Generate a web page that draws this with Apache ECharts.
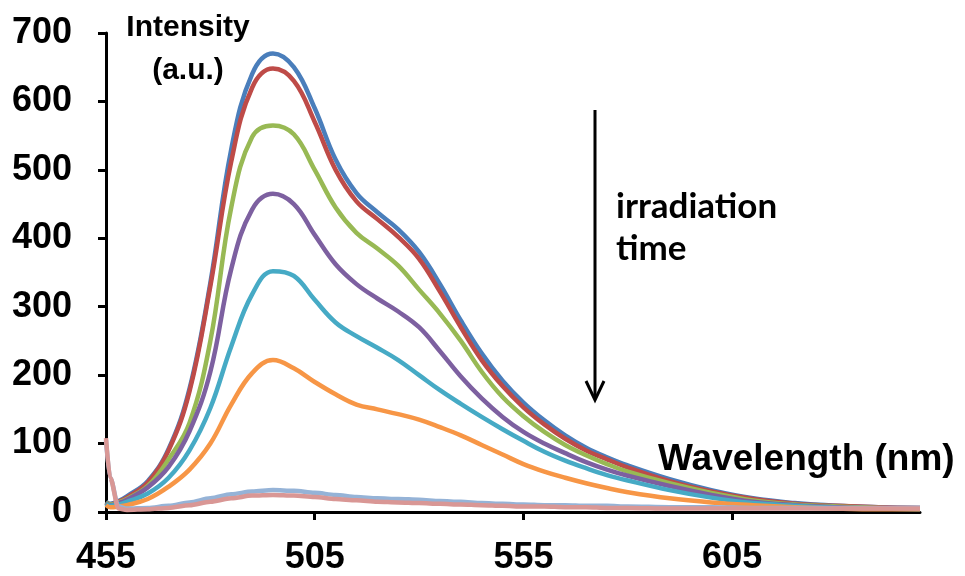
<!DOCTYPE html>
<html>
<head>
<meta charset="utf-8">
<script src="https://cdn.jsdelivr.net/npm/echarts@6/dist/echarts.min.js"></script>
<style>
  html, body { margin: 0; padding: 0; background: #fff; }
  #chart { width: 965px; height: 576px; }
</style>
</head>
<body>
<div id="chart"></div>
<script>
// Emission wavelengths (nm) shared by every spectrum
const wavelengths = [455, 456, 458, 460, 465, 470, 475, 480, 485, 490, 495, 500, 505, 510, 515, 520, 525, 530, 535, 540, 545, 550, 555, 560, 565, 570, 575, 580, 590, 600, 610, 620, 630, 640, 650];

// Fluorescence intensity (a.u.) for successive irradiation times
const spectrum0 = [15, 12, 16, 23, 45, 92, 180, 335, 530, 640, 670, 650, 590, 515, 466, 438, 413, 380, 333, 280, 232, 192, 160, 134, 112, 94, 80, 68, 48, 32, 20, 13, 9, 7, 6];
const spectrum1 = [14, 11, 15, 21, 43, 90, 176, 330, 512, 620, 648, 630, 570, 500, 454, 428, 402, 370, 322, 270, 222, 184, 153, 128, 107, 90, 77, 65, 45, 30, 19, 12, 9, 7, 6];
const spectrum2 = [14, 11, 14, 19, 38, 77, 130, 250, 445, 548, 565, 552, 500, 445, 408, 385, 360, 325, 290, 250, 205, 168, 140, 117, 98, 83, 70, 59, 42, 28, 17, 11, 8, 6, 5];
const spectrum3 = [13, 10, 13, 18, 36, 66, 118, 205, 355, 442, 465, 450, 405, 362, 333, 312, 293, 270, 235, 198, 166, 139, 117, 100, 86, 73, 62, 53, 38, 25, 15, 10, 7, 5, 5];
const spectrum4 = [12, 9, 11, 15, 27, 50, 90, 152, 242, 318, 352, 345, 310, 277, 257, 240, 222, 200, 178, 158, 139, 121, 104, 88, 75, 64, 54, 46, 32, 21, 13, 9, 6, 5, 4];
const spectrum5 = [10, 7, 8, 10, 19, 37, 62, 100, 157, 203, 222, 210, 190, 172, 157, 150, 143, 135, 124, 112, 98, 84, 70, 59, 50, 42, 35, 29, 20, 14, 10, 7, 5, 4, 4];
const spectrum6 = [105, 50, 8, 5, 6, 9, 14, 20, 26, 30, 32, 31, 28, 25, 22, 20, 19, 18, 16, 15, 13, 12, 11, 10, 10, 9, 9, 8, 7, 7, 6, 6, 6, 6, 6];
const spectrum7 = [108, 50, 5, 3, 4, 6, 10, 15, 20, 24, 25, 24, 22, 19, 17, 15, 14, 13, 12, 11, 10, 9, 8, 8, 7, 7, 6, 6, 5, 5, 5, 5, 5, 5, 5];

const spectra = [spectrum0, spectrum1, spectrum2, spectrum3, spectrum4, spectrum5, spectrum6, spectrum7];
const colors = ['#4a7ebb', '#be4b48', '#98b954', '#7d60a0', '#46aac5', '#f79646', '#95b3d7', '#d99795'];

// Axis tick labels
const xTickValues = [455, 505, 555, 605];
const yTickValues = [0, 100, 200, 300, 400, 500, 600, 700];

const chart = echarts.init(document.getElementById('chart'), null, { renderer: 'canvas' });

const labelFont = {
  color: '#000',
  fontFamily: '"Liberation Sans", Arial, sans-serif',
  fontWeight: 'bold',
  fontSize: 36
};

const series = spectra.map((vals, i) => {
  const s = {
    type: 'line',
    data: wavelengths.map((w, j) => [w, vals[j]]),
    smooth: 0.4,
    showSymbol: false,
    symbol: 'none',
    lineStyle: { color: colors[i], width: 4.5 },
    emphasis: { disabled: true },
    z: 2 + i
  };
  // the two faint spectra start with a sharp scatter spike
  if (i >= 6) {
    s.smooth = 0.3;
    s.smoothMonotone = 'x';
  }
  return s;
});

function label(text, x, y, font, align) {
  return {
    type: 'text', z: 20,
    style: { x: x, y: y, text: text, textAlign: align || 'left', textVerticalAlign: 'middle', font: font, fill: '#000' }
  };
}

const arialBold = (size) => 'bold ' + size + 'px "Liberation Sans", Arial, sans-serif';
const latoBold = (size) => 'bold ' + size + 'px Lato, "Open Sans", sans-serif';

chart.setOption({
  animation: false,
  backgroundColor: '#fff',
  grid: { left: 106, right: 45, top: 33, bottom: 63, containLabel: false },
  xAxis: {
    type: 'value',
    min: 455,
    max: 650,
    axisLine: { lineStyle: { color: '#000', width: 3 } },
    axisTick: { show: true, length: 8, lineStyle: { color: '#000', width: 3 }, customValues: xTickValues },
    axisLabel: Object.assign({ margin: 28, customValues: xTickValues }, labelFont),
    splitLine: { show: false }
  },
  yAxis: {
    type: 'value',
    min: 0,
    max: 700,
    interval: 100,
    axisLine: { show: true, lineStyle: { color: '#000', width: 3 } },
    axisTick: { show: true, length: 8, lineStyle: { color: '#000', width: 3 } },
    axisLabel: Object.assign({ margin: 34, formatter: v => yTickValues.includes(v) ? String(v) : '' }, labelFont),
    splitLine: { show: false }
  },
  series: series,
  graphic: [
    label('Intensity', 188, 28, arialBold(30), 'center'),
    label('(a.u.)', 188, 71, arialBold(30), 'center'),
    label('Wavelength (nm)', 658, 460, arialBold(37)),
    label('irradiation', 616, 207, latoBold(35)),
    label('time', 616, 249, latoBold(35)),
    {
      type: 'line', z: 20,
      shape: { x1: 595, y1: 110, x2: 595, y2: 399 },
      style: { stroke: '#000', lineWidth: 3 }
    },
    {
      type: 'polyline', z: 20,
      shape: { points: [[586, 381], [595, 400], [604, 381]] },
      style: { stroke: '#000', lineWidth: 3, fill: null }
    }
  ]
});
</script>
</body>
</html>
